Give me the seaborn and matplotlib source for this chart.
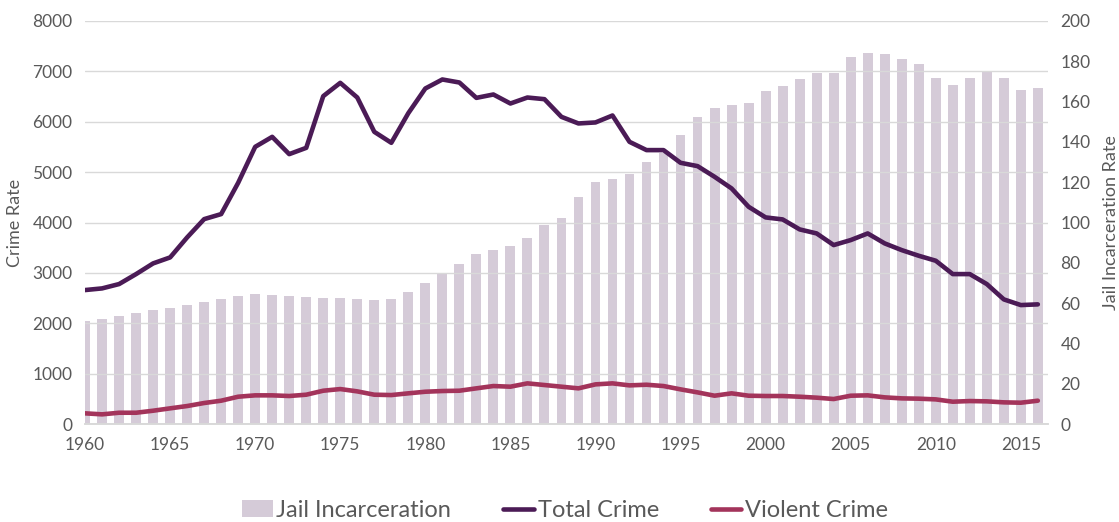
import numpy as np
import pandas as pd
import seaborn as sns
import matplotlib.pyplot as plt
from matplotlib.patches import Patch
from matplotlib.lines import Line2D

years = list(range(1960, 2017))
jail_rate = [51, 52, 53.6, 55, 56.4, 57.7, 59, 60.5, 61.9, 63.4,
             64.7, 64, 63.4, 63, 62.7, 62.4, 62.2, 61.5, 61.9, 65.7,
             69.8, 74.4, 79.3, 84.4, 86.5, 88.3, 92.5, 98.8, 102.4, 112.8,
             120.2, 121.4, 124.2, 129.8, 134.3, 143.4, 152.4, 157, 158.3, 159.2,
             165.3, 167.7, 171.4, 174.4, 174.4, 182, 184, 183.5, 181, 178.5,
             171.7, 168.2, 171.9, 175.2, 171.7, 165.8, 166.7]
total_crime = [2659, 2692, 2778, 2976, 3188, 3307, 3704, 4067, 4167, 4788,
               5502, 5700, 5357, 5482, 6508, 6772, 6481, 5800, 5582, 6170,
               6660, 6839, 6779, 6474, 6541, 6362, 6481, 6448, 6097, 5966,
               5986, 6124, 5601, 5437, 5437, 5185, 5119, 4907, 4676, 4312,
               4101, 4061, 3863, 3783, 3552, 3651, 3783, 3585, 3452, 3340,
               3241, 2976, 2976, 2778, 2474, 2361, 2375]
violent_crime = [212, 192, 224, 224, 264, 311, 357, 417, 463, 542,
                 569, 569, 556, 582, 661, 694, 648, 582, 575, 609,
                 641, 655, 661, 708, 754, 741, 807, 774, 741, 708,
                 787, 807, 767, 780, 754, 688, 628, 562, 609, 562,
                 556, 556, 542, 523, 496, 562, 569, 529, 509, 503,
                 489, 443, 456, 450, 430, 423, 463]

df = pd.DataFrame({"year": years, "jail": jail_rate,
                   "total": total_crime, "violent": violent_crime})

bar_color = "#d5cbd8"
total_color = "#4b1b56"
violent_color = "#a3345b"
text_color = "#595959"
grid_color = "#d9d9d9"

sns.set_style("white")
plt.rcParams["font.family"] = ["Lato", "DejaVu Sans"]

fig = plt.figure(figsize=(11.19, 5.22), dpi=100)
ax = fig.add_axes([0.076, 0.1877, 0.8606, 0.7721])
ax2 = ax.twinx()

# bars on the right axis, lines on the left axis drawn on top
sns.barplot(data=df, x="year", y="jail", native_scale=True, color=bar_color,
            saturation=1, width=0.58, ax=ax2, linewidth=0)
sns.lineplot(data=df, x="year", y="total", color=total_color, linewidth=3.3,
             ax=ax, solid_capstyle="round")
sns.lineplot(data=df, x="year", y="violent", color=violent_color, linewidth=3.3,
             ax=ax, solid_capstyle="round")

ax.set_zorder(ax2.get_zorder() + 1)
ax.patch.set_visible(False)

ax.set_xlim(1960, 2016.6)
ax.set_ylim(0, 8000)
ax2.set_ylim(0, 200)
ax.set_yticks(range(0, 8001, 1000))
ax2.set_yticks(range(0, 201, 20))
ax.set_xticks(range(1960, 2016, 5))

ax.grid(axis="y", color=grid_color, linewidth=1)
ax.set_axisbelow(True)

for a in (ax, ax2):
    for s in ("top", "left", "right"):
        a.spines[s].set_visible(False)
    a.spines["bottom"].set_color(grid_color)
    a.spines["bottom"].set_linewidth(1.2)

ax.tick_params(axis="x", length=6, width=1, colors=text_color,
               labelsize=12.5, pad=3, direction="out")
ax.tick_params(axis="x", color=grid_color)
ax.tick_params(axis="y", length=0, labelcolor=text_color, labelsize=12.5, pad=9)
ax2.tick_params(axis="y", length=0, labelcolor=text_color, labelsize=12.5, pad=9)

ax.set_xlabel("")
ax.set_ylabel("Crime Rate", color=text_color, fontsize=13, labelpad=7)
ax2.set_xlabel("")
ax2.set_ylabel("Jail Incarceration Rate", color=text_color, fontsize=13, labelpad=9)

handles = [Patch(facecolor=bar_color, edgecolor="none"),
           Line2D([0], [0], color=total_color, linewidth=3.3, solid_capstyle="round"),
           Line2D([0], [0], color=violent_color, linewidth=3.3, solid_capstyle="round")]
labels = ["Jail Incarceration", "Total Crime", "Violent Crime"]
leg = fig.legend(handles, labels, loc="center", bbox_to_anchor=(0.505, 0.022),
                 ncol=3, frameon=False, fontsize=17, handlelength=1.3,
                 handletextpad=0.15, columnspacing=2.2)
for t in leg.get_texts():
    t.set_color(text_color)

fig.savefig("out.png", dpi=100)
